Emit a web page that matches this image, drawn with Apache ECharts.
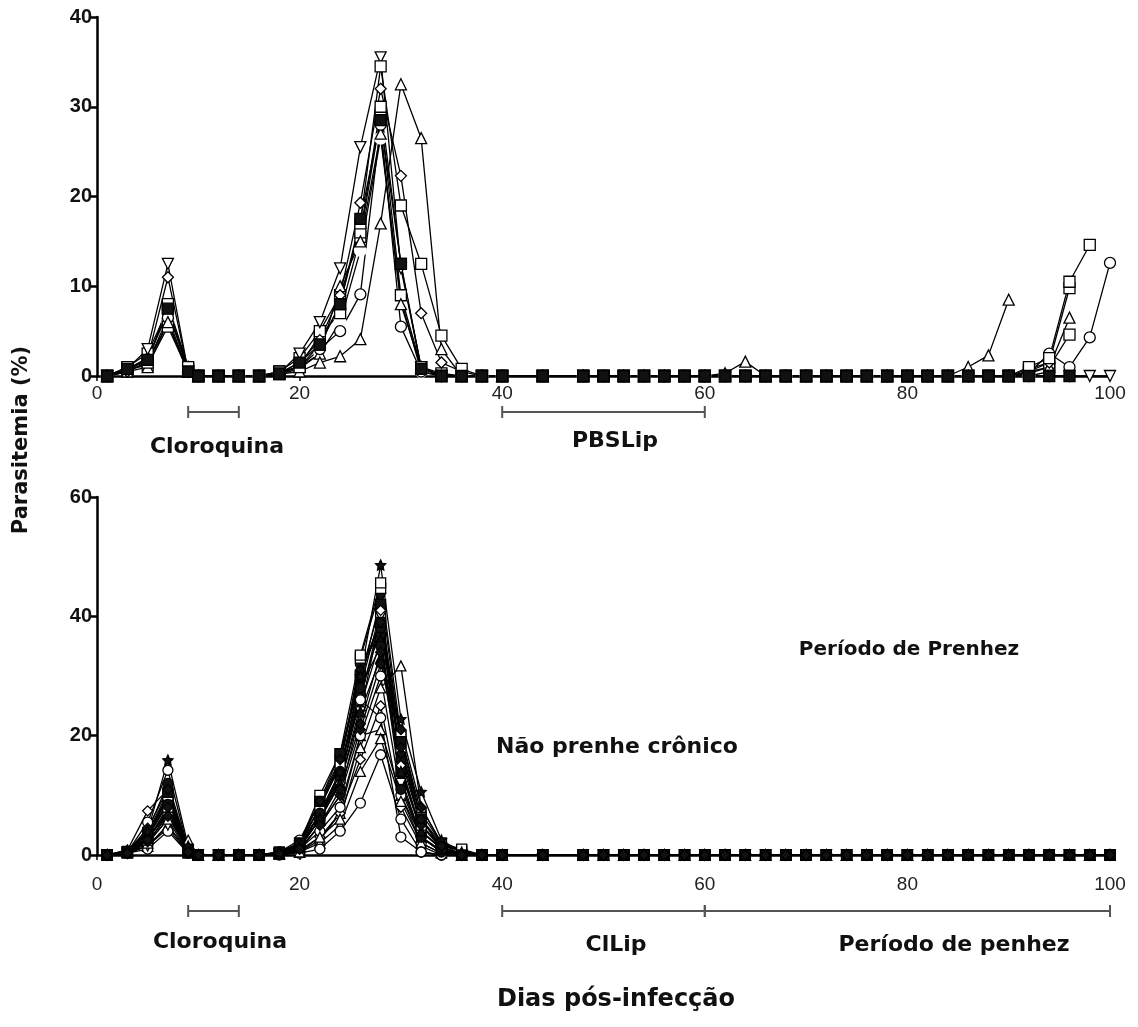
<!DOCTYPE html>
<html>
<head>
<meta charset="utf-8">
<script src="https://cdn.jsdelivr.net/npm/echarts@6/dist/echarts.min.js"></script>
<style>
html, body { margin: 0; background: #fff; }
#main { width: 1138px; height: 1027px; }
</style>
</head>
<body>
<div id="main"></div>
<script>
// dias de coleta
var days = [1, 3, 5, 7, 9, 10, 12, 14, 16, 18, 20, 22, 24, 26, 28, 30, 32, 34, 36,
  38, 40, 44, 48, 50, 52, 54, 56, 58, 60, 62, 64, 66, 68, 70, 72, 74, 76, 78, 80,
  82, 84, 86, 88, 90, 92, 94, 96, 98, 100];

var xTicks = [0, 20, 40, 60, 80, 100];
var topTicks = [0, 10, 20, 30, 40];
var bottomTicks = [0, 20, 40, 60];

// dias 38..100 (30 pontos)
var zeroTail = [0, 0, 0, 0, 0, 0, 0, 0, 0, 0, 0, 0, 0, 0, 0, 0, 0, 0, 0, 0, 0, 0, 0, 0, 0, 0, 0, 0, 0, 0];

// ---- PBSLip (grafico de cima), dias 1..36 ----
var topInvTri = [0, 0.8, 3, 12.5, 0.5, 0, 0, 0, 0, 0.3, 2.5, 6, 12, 25.5, 35.5, 12, 1, 0, 0];
var topSquare = [0, 1, 1.5, 8, 1, 0, 0, 0, 0, 0.5, 1, 3.5, 8, 17, 34.5, 19, 12.5, 4.5, 0.8];
var topDiamond = [0, 0.5, 2, 11, 0.5, 0, 0, 0, 0, 0.3, 1.5, 4, 9, 19.3, 32, 22.3, 7, 1.5, 0.5];
var topTriangle = [0, 0.5, 1, 6, 0.5, 0, 0, 0, 0, 0.2, 0.5, 1.5, 2.2, 4.1, 17, 32.5, 26.5, 3, 0];
var topCircle = [0, 0.5, 1.5, 6.5, 0.5, 0, 0, 0, 0, 0.3, 1, 3, 5, 9.1, 28, 5.5, 0.5, 0, 0];
var topTriangle2 = [0, 0.8, 2, 7, 1, 0, 0, 0, 0, 0.3, 1, 2.5, 10, 15, 27, 8, 1, 0, 0];
var topSquare2 = [0, 1, 2.5, 7.5, 0.8, 0, 0, 0, 0, 0.5, 2, 5, 9, 16, 30, 12.5, 1, 0, 0];
var topSquare3 = [0, 0.7, 1.2, 5.5, 0.5, 0, 0, 0, 0, 0.2, 1.2, 4.5, 7, 15.5, 29, 9, 1, 0.3, 0];
var topFillSq = [0, 0.8, 1.8, 7.5, 0.5, 0, 0, 0, 0, 0.3, 1.5, 3.5, 8, 17.5, 28.5, 12.5, 0.8, 0, 0];
var topFillCi = [0, 0.6, 1.5, 6, 0.3, 0, 0, 0, 0, 0.2, 0.8, 2.5, 6, 14, 26.5, 8.5, 0.5, 0, 0];

// dias 38..100
var topSquareLate = [0, 0, 0, 0, 0, 0, 0, 0, 0, 0, 0, 0, 0, 0, 0, 0, 0, 0, 0, 0, 0, 0, 0, 0, 0, 1, 2, 10.5, 14.6, null];
var topDiamondLate = [0, 0, 0, 0, 0, 0, 0, 0, 0, 0, 0, 0, 0, 0, 0, 0, 0, 0, 0, 0, 0, 0, 0, 0, 0, 0.5, 1.5, null, null, null];
var topTriangleLate = [0, 0, 0, 0, 0, 0, 0, 0, 0, 0, 0, 0, 0, 0, 0, 0, 0, 0, 0, 0, 0, 0, 0, 0, 0, 0.3, 1, 6.5, null, null];
var topCircleLate = [0, 0, 0, 0, 0, 0, 0, 0, 0, 0, 0, 0, 0, 0, 0, 0, 0, 0, 0, 0, 0, 0, 0, 0, 0, 0.3, 2.5, 1, 4.3, 12.6];
var topTriangle2Late = [0, 0, 0, 0, 0, 0, 0, 0, 0, 0, 0.3, 1.6, 0, 0, 0, 0, 0, 0, 0, 0, 0, 0, 1, 2.3, 8.5, null, null, null, null, null];
var topSquare2Late = [0, 0, 0, 0, 0, 0, 0, 0, 0, 0, 0, 0, 0, 0, 0, 0, 0, 0, 0, 0, 0, 0, 0, 0, 0, 0.8, 1.5, 9.8, null, null];
var topSquare3Late = [0, 0, 0, 0, 0, 0, 0, 0, 0, 0, 0, 0, 0, 0, 0, 0, 0, 0, 0, 0, 0, 0, 0, 0, 0, 0.5, 1, 4.6, null, null];
var topFillSqLate = [0, 0, 0, 0, 0, 0, 0, 0, 0, 0, 0, 0, 0, 0, 0, 0, 0, 0, 0, 0, 0, 0, 0, 0, 0, 0, 0, 0, null, null];
var topFillCiLate = [0, 0, 0, 0, 0, 0, 0, 0, 0, 0, 0, 0, 0, 0, 0, 0, 0, 0, 0, 0, 0, 0, 0, 0, 0, 0, 0.5, null, null, null];

// ---- ClLip (grafico de baixo), dias 1..36, depois tudo zero ----
var b01 = [0, 0.8, 4, 15.9, 1.5, 0, 0, 0, 0, 0.3, 1.5, 6, 14, 30, 48.6, 22.8, 10.6, 2.5, 0.5];
var b02 = [0, 0.5, 3, 10, 1, 0, 0, 0, 0, 0.5, 2, 10, 17, 33.5, 45.6, 20, 6, 2, 1];
var b03 = [0, 0.5, 2.5, 8, 0.5, 0, 0, 0, 0, 0.3, 1.5, 8, 15, 33, 44.7, 18, 5, 1.5, 0.8];
var b04 = [0, 0.5, 5.5, 14.2, 1, 0, 0, 0, 0, 0.5, 2.5, 9, 15, 26, 23, 3, 0.5, 0, 0];
var b05 = [0, 0.8, 7.4, 11, 0.8, 0, 0, 0, 0, 0.3, 1, 7, 12, 28, 41, 15, 4, 1, 0];
var b06 = [0, 0.5, 2, 6, 2.5, 0, 0, 0, 0, 0.2, 0.5, 3, 6, 18, 28, 31.7, 8, 2, 0.5];
var b07 = [0, 0.3, 1.5, 5, 0.5, 0, 0, 0, 0, 0.2, 0.8, 5, 10, 24, 40, 12, 3, 0.5, 0];
var b08 = [0, 0.3, 1, 4, 0.3, 0, 0, 0, 0, 0, 0.3, 1, 4, 8.7, 16.8, 6, 0.5, 0, 0];
var b09 = [0, 0.5, 1.5, 5, 0.5, 0, 0, 0, 0, 0.2, 0.5, 2, 5, 14, 19.5, 9, 2, 0.3, 0];
var b10 = [0, 0.5, 3, 9, 0.8, 0, 0, 0, 0, 0.3, 2, 8, 16, 30, 42, 14, 4, 1, 0];
var b11 = [0, 0.5, 4, 12, 1, 0, 0, 0, 0, 0.3, 1.5, 7, 13, 27, 38, 16, 5, 1, 0];
var b12 = [0, 0.5, 3.5, 10, 1, 0, 0, 0, 0, 0.3, 1.5, 6, 12, 25, 36, 13, 3, 0.5, 0];
var b13 = [0, 0.3, 2.5, 8, 0.5, 0, 0, 0, 0, 0.2, 1, 5, 11, 22, 34, 18, 6, 1.5, 0];
var b14 = [0, 0.5, 2, 7, 0.5, 0, 0, 0, 0, 0.3, 1.2, 6, 13, 26, 40, 20, 7, 2, 0.5];
var b15 = [0, 0.5, 3, 9, 0.5, 0, 0, 0, 0, 0.2, 1, 4, 8, 20, 30, 10, 2, 0.3, 0];
var b16 = [0, 0.3, 2, 6, 0.3, 0, 0, 0, 0, 0.2, 0.8, 3, 7, 16, 25, 8, 1.5, 0, 0];
var b17 = [0, 0.5, 4.5, 11, 1.2, 0, 0, 0, 0, 0.4, 2, 9, 16, 31, 39, 17, 5, 1.5, 0];
var b18 = [0, 0.3, 1.5, 4.5, 0.3, 0, 0, 0, 0, 0.1, 0.5, 2.5, 7, 20, 21, 10, 3, 0.5, 0];
var b19 = [0, 0.4, 2.5, 7.5, 0.7, 0, 0, 0, 0, 0.3, 1.5, 7, 14, 29, 43, 15, 4, 1, 0];
var b20 = [0, 0.6, 3.5, 9.5, 0.9, 0, 0, 0, 0, 0.4, 1.8, 8, 15, 32, 37, 12, 3, 0.8, 0];
var b21 = [0, 0.5, 3, 8.5, 0.6, 0, 0, 0, 0, 0.3, 1.5, 7, 14, 28, 35, 11, 3, 0.5, 0];
var b22 = [0, 0.4, 2.8, 7, 0.5, 0, 0, 0, 0, 0.3, 1.2, 6, 12, 24, 33, 14, 4, 1, 0];
var b23 = [0, 0.6, 3.8, 10.5, 0.8, 0, 0, 0, 0, 0.4, 2, 9, 17, 30, 39, 19, 6, 1.2, 0];
var b24 = [0, 0.4, 2.2, 6.5, 0.6, 0, 0, 0, 0, 0.2, 1, 5, 10, 21, 32, 21, 8, 2, 0];

var star = 'path://M0,-10L2.9,-4L9.5,-3.1L4.8,1.5L5.9,8.1L0,5L-5.9,8.1L-4.8,1.5L-9.5,-3.1L-2.9,-4Z';

var myChart = echarts.init(document.getElementById('main'));

function mk(grid, symbol, rotate, filled, early, late) {
  var vals = early.concat(late);
  return {
    type: 'line',
    xAxisIndex: grid,
    yAxisIndex: grid,
    data: days.map(function (d, i) { return [d, vals[i]]; }),
    symbol: symbol,
    symbolRotate: rotate,
    symbolSize: grid == 0 ? 11 : 10,
    showAllSymbol: true,
    animation: false,
    lineStyle: { color: '#000', width: 1.3 },
    itemStyle: {
      color: filled ? '#111' : '#fff',
      borderColor: '#000',
      borderWidth: 1.3
    },
    emphasis: { disabled: true }
  };
}

function xAxis(grid, margin) {
  return {
    type: 'value',
    gridIndex: grid,
    min: 0,
    max: 100,
    interval: 20,
    axisLine: { onZero: false, lineStyle: { color: '#000', width: 2.5 } },
    axisTick: { show: true, length: 5, lineStyle: { color: '#000', width: 1.5 } },
    axisLabel: {
      color: '#222', fontSize: 19, fontFamily: 'Liberation Sans', margin: margin,
      formatter: function (v) { return xTicks.indexOf(v) >= 0 ? v : ''; }
    },
    splitLine: { show: false }
  };
}

function yAxis(grid, max, interval) {
  return {
    type: 'value',
    gridIndex: grid,
    min: 0,
    max: max,
    interval: interval,
    axisLine: { show: true, lineStyle: { color: '#000', width: 2.5 } },
    axisTick: { show: true, length: 8, lineStyle: { color: '#000', width: 2.5 } },
    axisLabel: {
      color: '#111', fontSize: 20, fontWeight: 'bold', fontFamily: 'Liberation Sans', margin: 5
    },
    splitLine: { show: false }
  };
}

var txt = { fontFamily: 'DejaVu Sans', fontWeight: 'bold', fill: '#111', textAlign: 'center', textVerticalAlign: 'middle' };

myChart.setOption({
  backgroundColor: '#fff',
  animation: false,
  grid: [
    { left: 97, top: 17, right: 28, height: 359 },
    { left: 97, top: 497, right: 28, height: 358 }
  ],
  xAxis: [xAxis(0, 8), xAxis(1, 20)],
  yAxis: [yAxis(0, 40, 10), yAxis(1, 60, 20)],
  series: [
    mk(0, 'emptyCircle', 0, false, topFillCi, topFillCiLate),
    mk(0, 'rect', 0, false, topSquare3, topSquare3Late),
    mk(0, 'rect', 0, false, topSquare2, topSquare2Late),
    mk(0, 'triangle', 0, false, topTriangle2, topTriangle2Late),
    mk(0, 'circle', 0, false, topCircle, topCircleLate),
    mk(0, 'triangle', 0, false, topTriangle, topTriangleLate),
    mk(0, 'diamond', 0, false, topDiamond, topDiamondLate),
    mk(0, 'triangle', 180, false, topInvTri, zeroTail),
    mk(0, 'rect', 0, false, topSquare, topSquareLate),
    mk(0, 'rect', 0, true, topFillSq, topFillSqLate),

    mk(1, 'circle', 0, true, b20, zeroTail),
    mk(1, 'triangle', 180, true, b19, zeroTail),
    mk(1, 'triangle', 0, false, b18, zeroTail),
    mk(1, 'diamond', 0, false, b16, zeroTail),
    mk(1, 'circle', 0, false, b15, zeroTail),
    mk(1, 'rect', 0, false, b14, zeroTail),
    mk(1, 'triangle', 0, true, b12, zeroTail),
    mk(1, 'circle', 0, true, b11, zeroTail),
    mk(1, 'rect', 0, true, b10, zeroTail),
    mk(1, 'triangle', 0, false, b09, zeroTail),
    mk(1, 'circle', 0, false, b08, zeroTail),
    mk(1, 'triangle', 180, false, b07, zeroTail),
    mk(1, 'triangle', 0, false, b06, zeroTail),
    mk(1, 'diamond', 0, false, b05, zeroTail),
    mk(1, 'circle', 0, false, b04, zeroTail),
    mk(1, 'rect', 0, false, b03, zeroTail),
    mk(1, 'rect', 0, false, b02, zeroTail),
    mk(1, 'circle', 0, true, b21, zeroTail),
    mk(1, 'triangle', 0, true, b22, zeroTail),
    mk(1, 'rect', 0, true, b23, zeroTail),
    mk(1, 'diamond', 0, true, b24, zeroTail),
    mk(1, 'diamond', 0, true, b17, zeroTail),
    mk(1, star, 0, true, b01, zeroTail),
    mk(1, 'diamond', 0, true, b13, zeroTail)
  ]
});

// colchetes dos periodos de tratamento
function px(grid, x) {
  return myChart.convertToPixel({ gridIndex: grid }, [x, 0])[0];
}
function bracket(grid, x1, x2, y) {
  var a = px(grid, x1), b = px(grid, x2);
  var st = { stroke: '#555', lineWidth: 2 };
  return [
    { type: 'line', shape: { x1: a, y1: y, x2: b, y2: y }, style: st },
    { type: 'line', shape: { x1: a, y1: y - 6, x2: a, y2: y + 6 }, style: st },
    { type: 'line', shape: { x1: b, y1: y - 6, x2: b, y2: y + 6 }, style: st }
  ];
}
function label(text, x, y, size) {
  return { type: 'text', x: x, y: y, style: Object.assign({ text: text, fontSize: size }, txt) };
}

var g = [].concat(
  bracket(0, 9, 14, 412),
  bracket(0, 40, 60, 412),
  bracket(1, 9, 14, 911),
  bracket(1, 40, 60, 911),
  bracket(1, 60, 100, 911),
  [
    label('Cloroquina', 217, 447, 22),
    label('PBSLip', 615, 441, 22),
    label('Cloroquina', 220, 942, 22),
    label('ClLip', 616, 945, 22),
    label('Período de penhez', 954, 945, 22),
    label('Período de Prenhez', 909, 650, 20),
    label('Não prenhe crônico', 617, 747, 22),
    label('Dias pós-infecção', 616, 1000, 24),
    { type: 'text', x: 22, y: 440, rotation: Math.PI / 2,
      style: Object.assign({ text: 'Parasitemia (%)', fontSize: 21 }, txt) }
  ]
);
myChart.setOption({ graphic: g });
</script>
</body>
</html>
